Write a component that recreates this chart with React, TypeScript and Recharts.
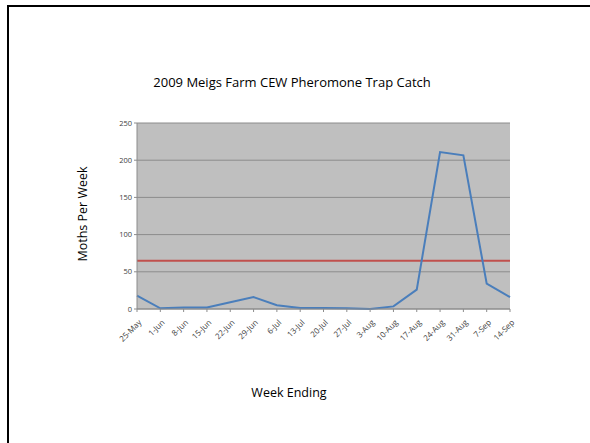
import { LineChart, Line, XAxis, YAxis, CartesianGrid, ReferenceLine } from "recharts";

const weeks = [
  "25-May", "1-Jun", "8-Jun", "15-Jun", "22-Jun", "29-Jun", "6-Jul", "13-Jul", "20-Jul",
  "27-Jul", "3-Aug", "10-Aug", "17-Aug", "24-Aug", "31-Aug", "7-Sep", "14-Sep",
];
const moths = [18, 1, 2, 2, 9, 16, 5, 1.5, 1.5, 1, 0, 3.5, 26, 211, 206.5, 34, 16];
const threshold = 65;
const yTicks = [0, 50, 100, 150, 200, 250];

const data = weeks.map((week, i) => ({ week, moths: moths[i] }));

const font = "'Open Sans', sans-serif";

const XTick = (props: any) => {
  const { x, y, payload } = props;
  return (
    <g transform={`translate(${x + 5},${y + 9})`}>
      <text
        textAnchor="end"
        transform="rotate(-45)"
        fontSize={8}
        fill="#404040"
        fontFamily={font}
      >
        {payload.value}
      </text>
    </g>
  );
};

export default function App() {
  return (
    <div
      style={{
        position: "fixed",
        left: 0,
        top: 0,
        width: 590,
        height: 443,
        background: "#fff",
        overflow: "hidden",
        fontFamily: font,
      }}
    >
      {/* slide frame, only top and left edges visible */}
      <div style={{ position: "absolute", left: 7, top: 5, width: 583, height: 2, background: "#000" }} />
      <div style={{ position: "absolute", left: 7, top: 5, width: 2, height: 438, background: "#000" }} />

      <div
        style={{
          position: "absolute",
          left: 292,
          top: 82,
          fontSize: 13,
          whiteSpace: "nowrap",
          transform: "translate(-50%,-50%)",
        }}
      >
        2009 Meigs Farm CEW Pheromone Trap Catch
      </div>
      <div
        style={{
          position: "absolute",
          left: 82,
          top: 214,
          fontSize: 12.5,
          whiteSpace: "nowrap",
          transform: "translate(-50%,-50%) rotate(-90deg)",
        }}
      >
        Moths Per Week
      </div>
      <div
        style={{
          position: "absolute",
          left: 289,
          top: 392,
          fontSize: 12.5,
          whiteSpace: "nowrap",
          transform: "translate(-50%,-50%)",
        }}
      >
        Week Ending
      </div>
      <div style={{ position: "absolute", left: 0, top: 0 }}>
        <LineChart
          width={590}
          height={443}
          data={data}
          margin={{ top: 123, right: 80, bottom: 104, left: 107 }}
        >
          <CartesianGrid vertical={false} stroke="#8c8c8c" fill="#bfbfbf" />
          <XAxis
            dataKey="week"
            interval={0}
            height={30}
            tick={<XTick />}
            tickSize={3}
            stroke="#8c8c8c"
          />
          <YAxis
            domain={[0, 250]}
            ticks={yTicks}
            width={30}
            tickSize={3}
            stroke="#8c8c8c"
            tick={{ fontSize: 7.5, fill: "#404040", fontFamily: font }}
          />
          <ReferenceLine y={threshold} stroke="#c0504d" strokeWidth={2} />
          <Line
            type="linear"
            dataKey="moths"
            stroke="#4a7ebb"
            strokeWidth={2}
            dot={false}
            isAnimationActive={false}
          />
        </LineChart>
      </div>
    </div>
  );
}
